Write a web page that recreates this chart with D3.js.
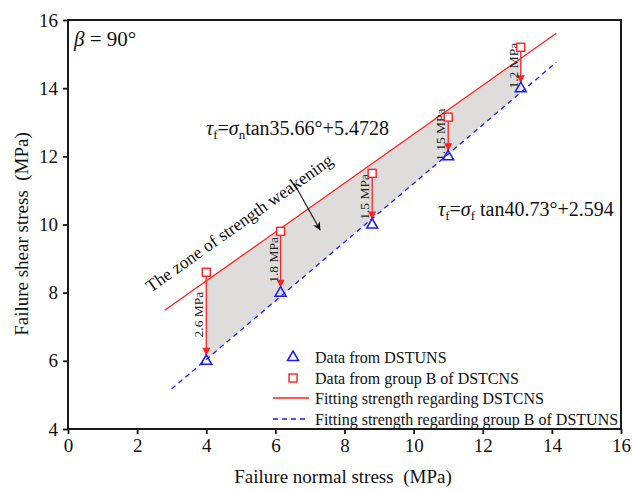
<!DOCTYPE html>
<html>
<head>
<meta charset="utf-8">
<script src="https://cdn.jsdelivr.net/npm/d3@7"></script>
<style>
  html, body { margin: 0; padding: 0; background: #fff; }
  svg { display: block; }
  svg text { font-family: "Liberation Serif", "Times New Roman", serif !important; }
</style>
</head>
<body>
<svg id="chart" width="632" height="491"></svg>
<script>
// Failure normal stress (MPa) of each test
const sigma = [4, 6.15, 8.8, 11, 13.1];
// Failure shear stress (MPa), DSTUNS
const tauDSTUNS = [6, 8, 10, 12, 14];
// Failure shear stress (MPa), group B of DSTCNS
const tauDSTCNS = [8.6, 9.8, 11.5, 13.15, 15.2];
// Strength drop between the two series at each normal stress
const dropLabels = ["2.6 MPa", "1.8 MPa", "1.5 MPa", "1.15 MPa", "1.2 MPa"];

// Mohr-Coulomb fits: [friction angle (deg), cohesion (MPa)]
const fitDSTCNS = [35.66, 5.4728];
const fitDSTUNS = [40.73, 2.594];
// Normal stress span over which each fit line is drawn
const spanDSTCNS = [2.8, 14.13];
const spanDSTUNS = [3.0, 14.13];

const xTicks = [0, 2, 4, 6, 8, 10, 12, 14, 16];
const yTicks = [4, 6, 8, 10, 12, 14, 16];

const legendLabels = [
  "Data from DSTUNS",
  "Data from group B of DSTCNS",
  "Fitting strength regarding DSTCNS",
  "Fitting strength regarding group B of DSTUNS"
];

const RED = "#ff2020";
const BLUE = "#1a1aff";

const svg = d3.select("#chart");
const m = { left: 68, top: 20, right: 621, bottom: 429 };

const x = d3.scaleLinear().domain([0, 16]).range([m.left, m.right]);
const y = d3.scaleLinear().domain([4, 16]).range([m.bottom, m.top]);

const fit = (p) => (s) => s * Math.tan(p[0] * Math.PI / 180) + p[1];
const fRed = fit(fitDSTCNS);
const fBlue = fit(fitDSTUNS);

const defs = svg.append("defs");
defs.append("marker")
  .attr("id", "headRed").attr("viewBox", "0 0 10 10")
  .attr("refX", 10).attr("refY", 5)
  .attr("markerWidth", 9).attr("markerHeight", 8)
  .attr("markerUnits", "userSpaceOnUse")
  .attr("orient", "auto")
  .append("path").attr("d", "M0,0 L10,5 L0,10 Z").attr("fill", RED);
defs.append("marker")
  .attr("id", "headBlack").attr("viewBox", "0 0 10 10")
  .attr("refX", 10).attr("refY", 5)
  .attr("markerWidth", 11).attr("markerHeight", 8)
  .attr("markerUnits", "userSpaceOnUse")
  .attr("orient", "auto")
  .append("path").attr("d", "M0,0 L10,5 L0,10 L3,5 Z").attr("fill", "#111");

// Shaded zone between the two fit lines
const s0 = sigma[0], s1 = sigma[sigma.length - 1];
const zone = [[s0, fRed(s0)], [s1, fRed(s1)], [s1, fBlue(s1)], [s0, fBlue(s0)]];
svg.append("path")
  .attr("d", d3.line().x(d => x(d[0])).y(d => y(d[1]))(zone) + "Z")
  .attr("fill", "#dedddc");

// Fit lines
svg.append("line")
  .attr("x1", x(spanDSTCNS[0])).attr("y1", y(fRed(spanDSTCNS[0])))
  .attr("x2", x(spanDSTCNS[1])).attr("y2", y(fRed(spanDSTCNS[1])))
  .attr("stroke", RED).attr("stroke-width", 1.3);
svg.append("line")
  .attr("x1", x(spanDSTUNS[0])).attr("y1", y(fBlue(spanDSTUNS[0])))
  .attr("x2", x(spanDSTUNS[1])).attr("y2", y(fBlue(spanDSTUNS[1])))
  .attr("stroke", BLUE).attr("stroke-width", 1.3)
  .attr("stroke-dasharray", "5,4");

// Drop arrows from DSTCNS to DSTUNS points
sigma.forEach((s, i) => {
  svg.append("line")
    .attr("x1", x(s)).attr("y1", y(tauDSTCNS[i]) + 4)
    .attr("x2", x(s)).attr("y2", y(tauDSTUNS[i]) - 5)
    .attr("stroke", RED).attr("stroke-width", 1.3)
    .attr("marker-end", "url(#headRed)");
  const cy = (y(tauDSTCNS[i]) + y(tauDSTUNS[i])) / 2 - 2;
  svg.append("text")
    .attr("transform", `translate(${x(s) - 3},${cy}) rotate(-90)`)
    .attr("text-anchor", "middle")
    .attr("font-size", 13.5)
    .attr("fill", "#222")
    .text(dropLabels[i]);
});

// Markers
const triPath = "M0,-6 L5.5,3.5 L-5.5,3.5 Z";
sigma.forEach((s, i) => {
  svg.append("path")
    .attr("transform", `translate(${x(s)},${y(tauDSTUNS[i])})`)
    .attr("d", triPath)
    .attr("fill", "none").attr("stroke", BLUE).attr("stroke-width", 1.5);
  svg.append("rect")
    .attr("x", x(s) - 4).attr("y", y(tauDSTCNS[i]) - 4)
    .attr("width", 8).attr("height", 8)
    .attr("fill", "#fff").attr("stroke", RED).attr("stroke-width", 1.4);
});

// Zone annotation
const ang = Math.atan2(y(fRed(10)) - y(fRed(2)), x(10) - x(2)) * 180 / Math.PI;
svg.append("text")
  .attr("transform", `translate(${x(2.40)},${y(8.0)}) rotate(${ang})`)
  .attr("font-size", 17.5).attr("fill", "#111")
  .text("The zone of strength weakening");
svg.append("line")
  .attr("x1", x(6.54)).attr("y1", y(11.2))
  .attr("x2", x(7.30)).attr("y2", y(9.83))
  .attr("stroke", "#111").attr("stroke-width", 1.1)
  .attr("marker-end", "url(#headBlack)");

// Fit equations
function equation(px, py, sub2, rest) {
  const t = svg.append("text").attr("x", px).attr("y", py)
    .attr("font-size", 20).attr("fill", "#111");
  t.append("tspan").attr("font-style", "italic").text("τ");
  t.append("tspan").attr("font-size", 13).attr("dy", 4).text("f");
  t.append("tspan").attr("dy", -4).text("=");
  t.append("tspan").attr("font-style", "italic").text("σ");
  t.append("tspan").attr("font-size", 13).attr("dy", 4).text(sub2);
  t.append("tspan").attr("dy", -4).text(rest);
}
equation(206, 135, "n", `tan${fitDSTCNS[0]}°+${fitDSTCNS[1]}`);
equation(438, 216, "f", ` tan${fitDSTUNS[0]}°+${fitDSTUNS[1]}`);

// β label
const bt = svg.append("text").attr("x", 74).attr("y", 46)
  .attr("font-size", 21).attr("fill", "#111");
bt.append("tspan").attr("font-style", "italic").text("β");
bt.append("tspan").text(" = 90°");

// Legend
const lx = 293, lt = 315;
const ly = [357, 378, 398, 419];
svg.append("path").attr("transform", `translate(${lx},${ly[0]})`)
  .attr("d", triPath).attr("fill", "none").attr("stroke", BLUE).attr("stroke-width", 1.5);
svg.append("rect").attr("x", lx - 4).attr("y", ly[1] - 4).attr("width", 8).attr("height", 8)
  .attr("fill", "#fff").attr("stroke", RED).attr("stroke-width", 1.4);
svg.append("line").attr("x1", 273).attr("x2", 309).attr("y1", ly[2]).attr("y2", ly[2])
  .attr("stroke", RED).attr("stroke-width", 1.3);
svg.append("line").attr("x1", 273).attr("x2", 309).attr("y1", ly[3]).attr("y2", ly[3])
  .attr("stroke", BLUE).attr("stroke-width", 1.3).attr("stroke-dasharray", "5,4");
legendLabels.forEach((l, i) => {
  svg.append("text").attr("x", lt).attr("y", ly[i] + 5.5)
    .attr("font-size", 16).attr("fill", "#111").text(l);
});

// Axes
const xAxis = svg.append("g").attr("transform", `translate(0,${m.bottom})`)
  .call(d3.axisBottom(x).tickValues(xTicks).tickSize(5).tickPadding(5).tickFormat(d3.format("d")));
const yAxis = svg.append("g").attr("transform", `translate(${m.left},0)`)
  .call(d3.axisLeft(y).tickValues(yTicks).tickSize(5).tickPadding(5).tickFormat(d3.format("d")));
[xAxis, yAxis].forEach(g => {
  g.select(".domain").remove();
  g.selectAll(".tick line").attr("stroke", "#111").attr("stroke-width", 1.8);
  g.selectAll(".tick text").attr("font-size", 19).attr("fill", "#111");
});

// Frame
svg.append("rect")
  .attr("x", m.left).attr("y", m.top)
  .attr("width", m.right - m.left).attr("height", m.bottom - m.top)
  .attr("fill", "none").attr("stroke", "#1a1a1a").attr("stroke-width", 2);

// Axis titles
svg.append("text")
  .attr("x", 343).attr("y", 483)
  .attr("text-anchor", "middle").attr("font-size", 19).attr("fill", "#111")
  .attr("xml:space", "preserve")
  .text("Failure normal stress  (MPa)");
svg.append("text")
  .attr("transform", `translate(28,234) rotate(-90)`)
  .attr("text-anchor", "middle").attr("font-size", 19).attr("fill", "#111")
  .attr("xml:space", "preserve")
  .text("Failure shear stress  (MPa)");
</script>
</body>
</html>
